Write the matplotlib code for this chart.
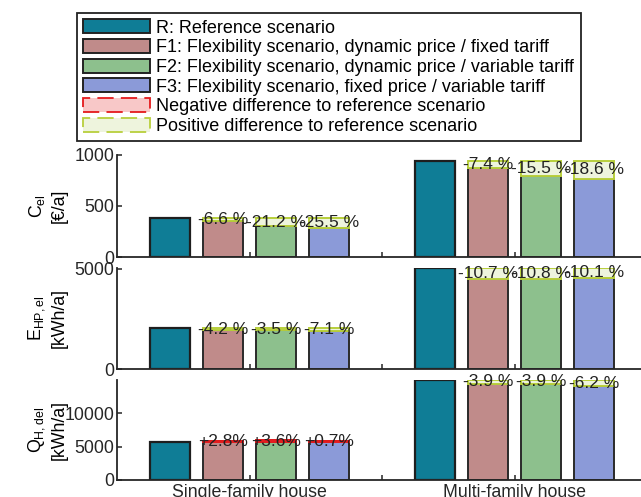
"""Flexibility scenarios vs reference: cost, HP electricity and delivered heat."""
import matplotlib
matplotlib.use('Agg')
import matplotlib.pyplot as plt
from matplotlib.patches import Patch

plt.rcParams['font.family'] = ['Liberation Sans', 'DejaVu Sans']
plt.rcParams['mathtext.fontset'] = 'custom'
plt.rcParams['mathtext.rm'] = 'Liberation Sans'
plt.rcParams['mathtext.it'] = 'Liberation Sans'

houses = ['Single-family house', 'Multi-family house']
scenarios = ['R: Reference scenario',
             'F1: Flexibility scenario, dynamic price / fixed tariff',
             'F2: Flexibility scenario, dynamic price / variable tariff',
             'F3: Flexibility scenario, fixed price / variable tariff']

# [single-family, multi-family]
cel_ref = [382, 944]
cel_flex = [[357, 874], [301, 798], [285, 768]]            # F1, F2, F3
cel_text = [['-6.6 %', '-7.4 %'], ['-21.2 %', '-15.5 %'], ['-25.5 %', '-18.6 %']]

ehp_ref = [2033, 5060]
ehp_flex = [[1948, 4519], [1962, 4514], [1889, 4549]]
ehp_text = [['-4.2 %', '-10.7 %'], ['-3.5 %', '-10.8 %'], ['-7.1 %', '-10.1 %']]

qh_ref = [5716, 14925]
qh_flex = [[5876, 14343], [5922, 14343], [5756, 14000]]
qh_text = [['+2.8%', '-3.9 %'], ['+3.6%', '-3.9 %'], ['+0.7%', '-6.2 %']]

colors = ['#0f7d96', '#c08b8a', '#8dc08d', '#8b9ad8']
pos_fill, pos_edge = '#eef4dd', '#b8cf3c'
neg_fill, neg_edge = '#f8c8c8', '#e41a1c'
offsets = [-0.3, -0.1, 0.1, 0.3]
w = 0.15
FS = 12.8


def panel(ax, ref, flex, texts, ylim, yticks, ylabel):
    xs = [1, 2]
    ax.bar([x + offsets[0] for x in xs], ref, w, color=colors[0],
           edgecolor='#1e1e1e', linewidth=1.6, zorder=2)
    for k in range(3):
        xk = [x + offsets[k + 1] for x in xs]
        ax.bar(xk, flex[k], w, color=colors[k + 1], edgecolor='#2a2a2a',
               linewidth=1.4, zorder=2)
        for x, r, f, t in zip(xk, ref, flex[k], texts[k]):
            better = f < r
            ax.bar(x, abs(r - f), w, bottom=min(r, f),
                   color=pos_fill if better else neg_fill,
                   edgecolor=pos_edge if better else neg_edge,
                   linewidth=1.4, zorder=3)
            ax.text(x, (r + f) / 2, t, ha='center', va='center',
                    fontsize=12.5, color='#222222', zorder=5)
    ax.set_xlim(0.5, 2.5)
    ax.set_ylim(*ylim)
    ax.set_yticks(yticks)
    ax.set_xticks([1, 1.5, 2])
    ax.set_xticklabels([])
    ax.set_ylabel(ylabel, fontsize=FS, linespacing=1.3)
    ax.yaxis.set_label_coords(-0.092, 0.5)
    for s in ['top', 'right']:
        ax.spines[s].set_visible(False)
    for s in ['left', 'bottom']:
        ax.spines[s].set_linewidth(1.3)
        ax.spines[s].set_color('#262626')
    ax.tick_params(direction='in', length=3.6, width=1.1, colors='#262626',
                   labelsize=FS, pad=2)


def main():
    fig = plt.figure(figsize=(6.41, 4.97), dpi=100)
    left, width = 117 / 641, 530 / 641
    ax1 = fig.add_axes([left, 1 - 257 / 497, width, 102 / 497])
    ax2 = fig.add_axes([left, 1 - 369 / 497, width, 101.2 / 497])
    ax3 = fig.add_axes([left, 1 - 480 / 497, width, 100.5 / 497])

    panel(ax1, cel_ref, cel_flex, cel_text, (0, 1000), [0, 500, 1000],
          '$\\mathregular{C_{el}}$\n[€/a]')
    panel(ax2, ehp_ref, ehp_flex, ehp_text, (0, 5060), [0, 5000],
          '$\\mathregular{E_{HP,el}}$\n[kWh/a]')
    panel(ax3, qh_ref, qh_flex, qh_text, (0, 15000), [0, 5000, 10000],
          '$\\mathregular{Q_{H,del}}$\n[kWh/a]')
    ax3.set_xticklabels([houses[0], '', houses[1]], fontsize=FS)
    ax3.tick_params(axis='x', pad=3)

    handles = [Patch(facecolor=c, edgecolor='#222222', linewidth=1.4) for c in colors]
    handles += [Patch(facecolor=neg_fill, edgecolor=neg_edge, linewidth=1.3,
                      linestyle=(0, (9, 4))),
                Patch(facecolor=pos_fill, edgecolor=pos_edge, linewidth=1.3,
                      linestyle=(0, (9, 4)))]
    labels = scenarios + ['Negative difference to reference scenario',
                          'Positive difference to reference scenario']
    leg = fig.legend(handles, labels, loc='upper left',
                     bbox_to_anchor=(77 / 641, 1 - 138 / 497, 504 / 641, 125 / 497),
                     mode='expand', borderaxespad=0, fontsize=13,
                     fancybox=False, framealpha=1, edgecolor='#222222',
                     handlelength=3.7, handleheight=0.8, handletextpad=0.3,
                     labelspacing=0.14, borderpad=0.35)
    leg.get_frame().set_linewidth(1.3)

    fig.savefig('out.png', dpi=100)


if __name__ == '__main__':
    main()
